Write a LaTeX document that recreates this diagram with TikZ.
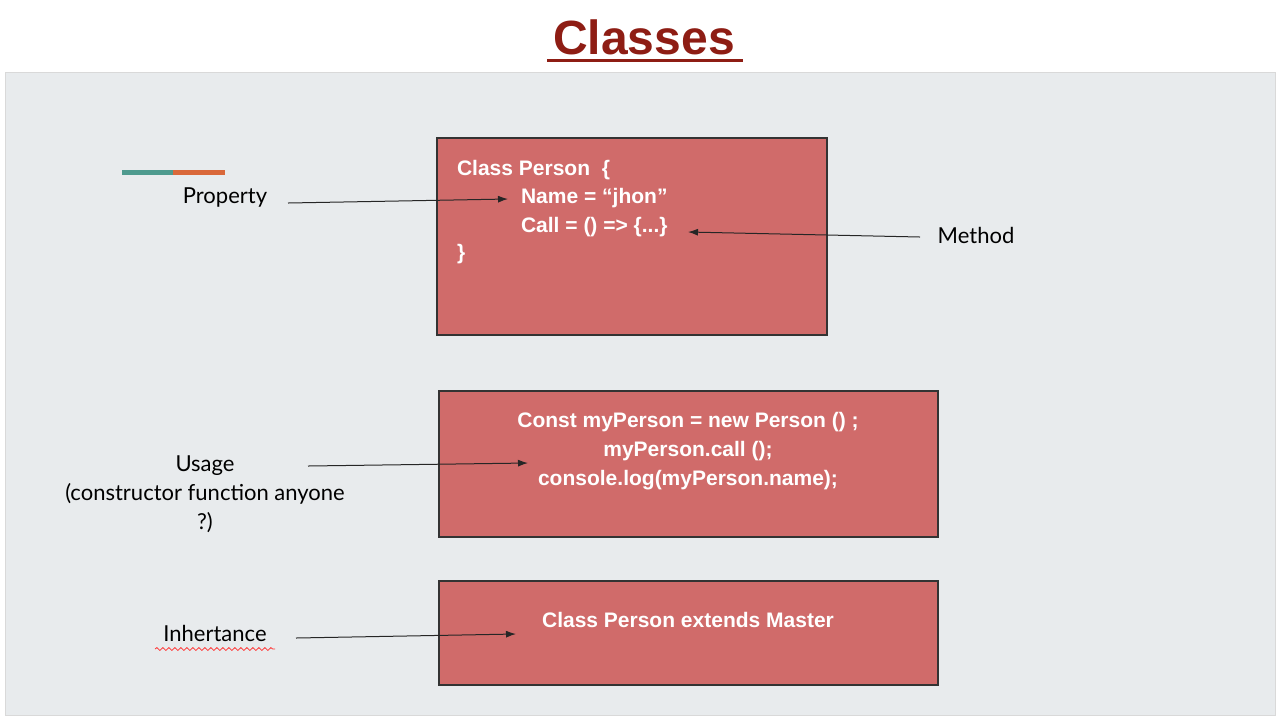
\documentclass[tikz,border=0pt]{standalone}
\usepackage{fontspec}
\setmainfont{Lato}
\newfontfamily\codefont{Liberation Sans}
\usetikzlibrary{arrows.meta,positioning,decorations.pathmorphing}
\definecolor{slidegray}{HTML}{E8EBED}
\definecolor{boxred}{HTML}{D06B6A}
\definecolor{titlered}{HTML}{8E1D14}
\definecolor{tealbar}{HTML}{4E9A8E}
\definecolor{orangebar}{HTML}{D9683A}
\begin{document}
\begin{tikzpicture}[
    x=0.5pt, y=-0.5pt,
    box/.style={rectangle, draw=black!80, fill=boxred, line width=0.6pt},
    code/.style={font=\codefont\bfseries\fontsize{10.5}{14.5}\selectfont, text=white},
    label/.style={font=\fontsize{11}{14.5}\selectfont, align=center},
    arrow/.style={-{Latex[length=5pt,width=3.5pt]}, line width=0.5pt, black!85}
]
\useasboundingbox (0,0) rectangle (1280,720);
% Background
\fill[white] (0,0) rectangle (1280,720);
\fill[slidegray, draw=black!15] (5,72) rectangle (1275,715);

% Title
\node[font=\codefont\bfseries\fontsize{24}{28}\selectfont, text=titlered] (title) at (644,37) {Classes};
\draw[titlered, line width=1.5pt] (547,60) -- (743,60);

% Accent bar
\draw[tealbar, line width=2.5pt] (122,172) -- (173,172);
\draw[orangebar, line width=2.5pt] (173,172) -- (225,172);

% Boxes
\draw[box] (437,138) rectangle (827,335);
\draw[box] (439,391) rectangle (938,537);
\draw[box] (439,581) rectangle (938,685);

% Code
\node[code, anchor=west] (cls) at (450,170) {Class Person \ \{};
\node[code, anchor=west] (name) at (514,198) {Name = “jhon”};
\node[code, anchor=west] (call) at (514,227) {Call = () => \{...\}};
\node[code, anchor=west] (close) at (450,254) {\}};
\node[code, align=center] (usage) at (688,451) {Const myPerson = new Person () ;\\myPerson.call ();\\console.log(myPerson.name);};
\node[code] (extends) at (688,620) {Class Person extends Master};

% Labels
\node[label] (prop) at (225,197) {Property};
\node[label] (meth) at (976,235) {Method};
\node[label] (use) at (205,494) {Usage\\(constructor function anyone\\?)};
\node[label] (inh) at (215,633) {Inhertance};
\draw[red!80, line width=0.4pt, decorate, decoration={snake, amplitude=0.7pt, segment length=3pt}] (155,649) -- (275,649);

% Arrow targets
\coordinate (pT) at (508,199);
\coordinate (mT) at (688,232);
\coordinate (uT) at (528,463);
\coordinate (iT) at (516,634);

% Arrows
\draw[arrow] (288,203) -- (pT);
\draw[arrow] (920,237) -- (mT);
\draw[arrow] (308,466) -- (uT);
\draw[arrow] (296,638) -- (iT);
\end{tikzpicture}
\end{document}
